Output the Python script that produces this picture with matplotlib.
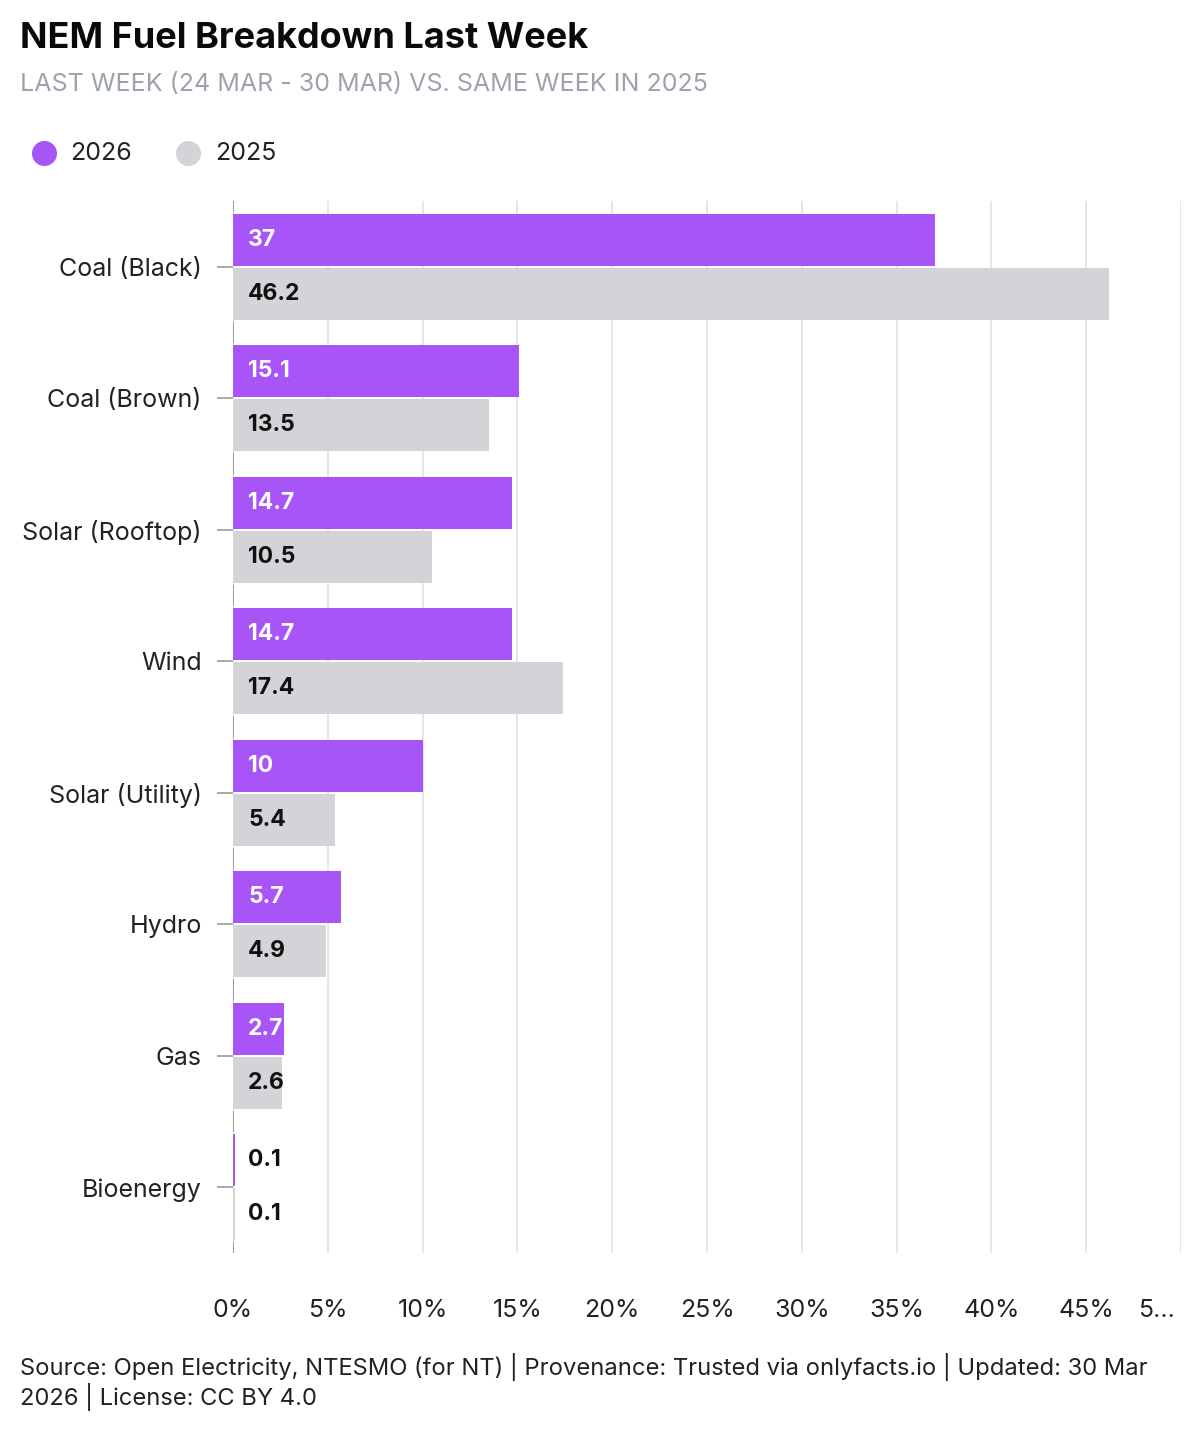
import matplotlib
matplotlib.use("Agg")
import matplotlib.pyplot as plt
from matplotlib.lines import Line2D
from matplotlib.transforms import ScaledTranslation
import numpy as np

categories = ["Coal (Black)", "Coal (Brown)", "Solar (Rooftop)", "Wind",
              "Solar (Utility)", "Hydro", "Gas", "Bioenergy"]
values_2026 = [37, 15.1, 14.7, 14.7, 10, 5.7, 2.7, 0.1]
values_2025 = [46.2, 13.5, 10.5, 17.4, 5.4, 4.9, 2.6, 0.1]
series_names = ["2026", "2025"]
xticks = [0, 5, 10, 15, 20, 25, 30, 35, 40, 45, 50]
xtick_labels = ["0%", "5%", "10%", "15%", "20%", "25%", "30%", "35%", "40%", "45%", "5..."]

PURPLE = "#A855F7"
GRAY = "#D4D4D8"
FONT = ["Inter", "DejaVu Sans"]
plt.rcParams["font.family"] = FONT

W, H = 1200, 1440
fig = plt.figure(figsize=(W / 100, H / 100), dpi=100)
fig.patch.set_facecolor("white")

left, right, top, bottom = 233, 1181, 201, 1253
ax = fig.add_axes([left / W, 1 - bottom / H, (right - left) / W, (bottom - top) / H])

y = np.arange(len(categories))
bh = 0.396
off = 0.205
ax.barh(y - off, values_2026, height=bh, color=PURPLE, zorder=3)
ax.barh(y + off, values_2025, height=bh, color=GRAY, zorder=3)

for i, (a, b) in enumerate(zip(values_2026, values_2025)):
    ax.text(0.8, i - off, f"{a:g}", va="center", ha="left", fontsize=16.5,
            fontweight="bold", color="white" if a > 1 else "#111111", zorder=4)
    ax.text(0.8, i + off, f"{b:g}", va="center", ha="left", fontsize=16.5,
            fontweight="bold", color="#111111", zorder=4)

ax.set_xlim(0, 50)
ax.set_ylim(len(categories) - 0.5, -0.5)
ax.set_xticks(xticks)
ax.set_xticklabels(xtick_labels)
ax.set_yticks(y)
ax.set_yticklabels(categories)
ax.tick_params(axis="x", length=0, pad=33, labelsize=18, labelcolor="#222222")
ax.tick_params(axis="y", length=11.5, width=1.2, color="#999999", pad=11,
               labelsize=18, labelcolor="#222222")
last = ax.get_xticklabels()[-1]
last.set_transform(last.get_transform() + ScaledTranslation(-25 / 100, 0, fig.dpi_scale_trans))
for s in ax.spines.values():
    s.set_visible(False)
ax.grid(axis="x", color="#E6E6E6", linewidth=1.4, zorder=0)
ax.grid(axis="y", visible=False)

# short marks at band boundaries on the value axis
for bnd in np.arange(-0.5, len(categories), 1.0):
    ax.plot([0, 0], [bnd - 0.08, bnd + 0.08], color="#999999", lw=1.4,
            zorder=2, clip_on=True, solid_capstyle="butt")

# Title / subtitle
fig.text(20 / W, 1 - 38 / H, "NEM Fuel Breakdown Last Week", fontsize=26,
         fontweight="bold", color="#0A0A0A", va="center", ha="left")
fig.text(20 / W, 1 - 85 / H, "LAST WEEK (24 MAR - 30 MAR) VS. SAME WEEK IN 2025",
         fontsize=18, color="#9CA3AF", va="center", ha="left")

# Legend
for cx, tx, col, name in [(44, 70, PURPLE, series_names[0]), (188, 215, GRAY, series_names[1])]:
    fig.add_artist(Line2D([cx / W], [1 - 153 / H], marker="o", markersize=17,
                          color=col, linestyle="none", transform=fig.transFigure))
    fig.text(tx / W, 1 - 153 / H, name, fontsize=18, color="#222222",
             va="center", ha="left")

# Footer
fig.text(20 / W, 1 - 1367 / H,
         "Source: Open Electricity, NTESMO (for NT) | Provenance: Trusted via onlyfacts.io | Updated: 30 Mar",
         fontsize=17.1, color="#222222", va="center", ha="left")
fig.text(20 / W, 1 - 1397 / H, "2026 | License: CC BY 4.0",
         fontsize=17.1, color="#222222", va="center", ha="left")

fig.savefig("out.png", dpi=100, facecolor="white")
